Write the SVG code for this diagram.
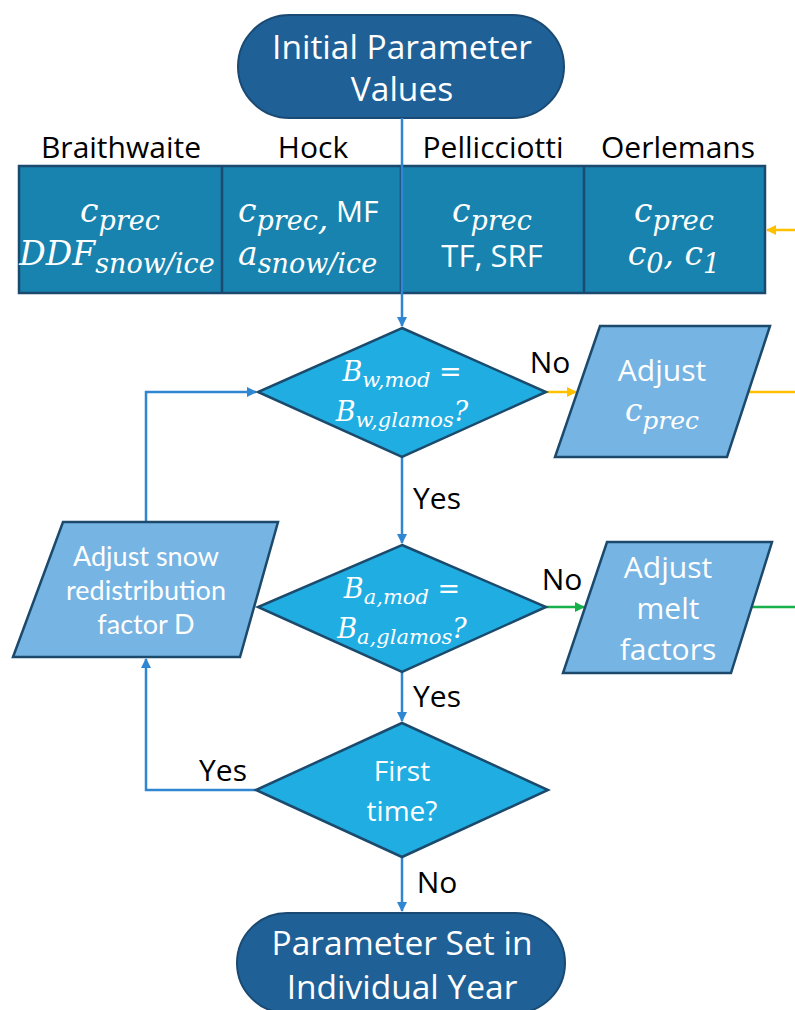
<svg xmlns="http://www.w3.org/2000/svg" width="795" height="1010" viewBox="0 0 795 1010">
<style>
.term{fill:#1f6096;stroke:#1a4a73;stroke-width:2}
.tbl{fill:#1883ae;stroke:#1b4a6e;stroke-width:2.5}
.dia{fill:#1fade2;stroke:#1c4a6c;stroke-width:2.5}
.par{fill:#75b4e3;stroke:#1c4a6c;stroke-width:2.5}
.wt{fill:#ffffff;font-family:"Open Sans","DejaVu Sans",sans-serif;text-anchor:middle}
.bk{fill:#000000;font-family:"Open Sans","DejaVu Sans",sans-serif;text-anchor:middle}
.m{fill:#ffffff;font-family:"DejaVu Serif",serif;font-style:italic;text-anchor:middle}
.nar{fill:#ffffff;font-family:Lato,"Open Sans",sans-serif;text-anchor:middle}
.blue{stroke:#2f86d2;stroke-width:2.5;fill:none}
.yel{stroke:#ffc000;stroke-width:2.5;fill:none}
.grn{stroke:#17b04a;stroke-width:2.5;fill:none}
</style>
<defs>
<marker id="ab" markerWidth="10" markerHeight="10" refX="9" refY="5" orient="auto" markerUnits="userSpaceOnUse"><path d="M0,0 L10,5 L0,10 z" fill="#2f86d2"/></marker>
<marker id="ay" markerWidth="10" markerHeight="10" refX="9" refY="5" orient="auto" markerUnits="userSpaceOnUse"><path d="M0,0 L10,5 L0,10 z" fill="#ffc000"/></marker>
<marker id="ag" markerWidth="10" markerHeight="10" refX="9" refY="5" orient="auto" markerUnits="userSpaceOnUse"><path d="M0,0 L10,5 L0,10 z" fill="#17b04a"/></marker>
</defs>

<g id="start">
<rect class="term" x="238" y="15" width="326" height="103" rx="51.5"/>
<text class="wt" x="402" y="59" font-size="33.5">Initial Parameter</text>
<text class="wt" x="402" y="101" font-size="33.5">Values</text>
</g>

<g id="headers">
<text class="bk" x="121" y="158" font-size="30">Braithwaite</text>
<text class="bk" x="313" y="158" font-size="30">Hock</text>
<text class="bk" x="493" y="158" font-size="30">Pellicciotti</text>
<text class="bk" x="678" y="158" font-size="30">Oerlemans</text>
</g>

<g id="table">
<rect class="tbl" x="19" y="166" width="746" height="127"/>
<line x1="222" y1="166" x2="222" y2="293" stroke="#1b4a6e" stroke-width="2.5"/>
<line x1="401" y1="166" x2="401" y2="293" stroke="#1b4a6e" stroke-width="2.5"/>
<line x1="584" y1="166" x2="584" y2="293" stroke="#1b4a6e" stroke-width="2.5"/>
<text class="m" x="120" y="222" font-size="33">c<tspan font-size="27" dy="8">prec</tspan></text>
<text class="m" x="117" y="265" font-size="33">DDF<tspan font-size="27" dy="8">snow/ice</tspan></text>
<text x="238" y="222" font-size="33" fill="#fff"><tspan font-family="DejaVu Serif,serif" font-style="italic">c<tspan font-size="27" dy="8">prec</tspan>,</tspan><tspan font-family="Open Sans,sans-serif" font-size="30" dy="-8"> MF</tspan></text>
<text x="238" y="265" font-size="33" fill="#fff" font-family="DejaVu Serif,serif" font-style="italic">a<tspan font-size="27" dy="8">snow/ice</tspan></text>
<text class="m" x="492" y="222" font-size="33">c<tspan font-size="27" dy="8">prec</tspan></text>
<text class="wt" x="492" y="267" font-size="31">TF, SRF</text>
<text class="m" x="674" y="222" font-size="33">c<tspan font-size="27" dy="8">prec</tspan></text>
<text class="m" x="674" y="265" font-size="33">c<tspan font-size="27" dy="8">0</tspan><tspan dy="-8">, c</tspan><tspan font-size="27" dy="8">1</tspan></text>
</g>

<g id="connectors">
<line class="blue" x1="402" y1="118" x2="402" y2="326" marker-end="url(#ab)"/>
<line class="blue" x1="402" y1="457" x2="402" y2="543" marker-end="url(#ab)"/>
<line class="blue" x1="402" y1="672" x2="402" y2="721" marker-end="url(#ab)"/>
<line class="blue" x1="402" y1="857" x2="402" y2="911" marker-end="url(#ab)"/>
<polyline class="blue" points="256,790 146,790 146,659" marker-end="url(#ab)"/>
<polyline class="blue" points="146,522 146,392 256,392" marker-end="url(#ab)"/>
<line class="yel" x1="546" y1="392" x2="576" y2="392" marker-end="url(#ay)"/>
<line class="yel" x1="749" y1="392" x2="795" y2="392"/>
<line class="yel" x1="795" y1="230" x2="767" y2="230" marker-end="url(#ay)"/>
<line class="grn" x1="546" y1="607" x2="584" y2="607" marker-end="url(#ag)"/>
<line class="grn" x1="752" y1="607" x2="795" y2="607"/>
</g>

<g id="labels">
<text class="bk" x="550" y="373" font-size="30">No</text>
<text class="bk" x="437" y="509" font-size="30">Yes</text>
<text class="bk" x="562" y="590" font-size="30">No</text>
<text class="bk" x="437" y="707" font-size="30">Yes</text>
<text class="bk" x="223" y="781" font-size="30">Yes</text>
<text class="bk" x="437" y="893" font-size="30">No</text>
</g>

<g id="dec1">
<polygon class="dia" points="402,328 546,392 402,457 258,392"/>
<text class="m" x="402" y="381" font-size="27">B<tspan font-size="21" dy="6">w,mod</tspan><tspan dy="-6"> =</tspan></text>
<text class="m" x="402" y="421" font-size="27">B<tspan font-size="21" dy="6">w,glamos</tspan><tspan dy="-6">?</tspan></text>
</g>

<g id="adjc">
<polygon class="par" points="600,326 770,326 727,457 555,457"/>
<text class="wt" x="662" y="381" font-size="30">Adjust</text>
<text class="m" x="662" y="421" font-size="31">c<tspan font-size="25" dy="8">prec</tspan></text>
</g>

<g id="dec2">
<polygon class="dia" points="402,545 546,607 402,672 258,607"/>
<text class="m" x="402" y="598" font-size="27">B<tspan font-size="21" dy="6">a,mod</tspan><tspan dy="-6"> =</tspan></text>
<text class="m" x="402" y="638" font-size="27">B<tspan font-size="21" dy="6">a,glamos</tspan><tspan dy="-6">?</tspan></text>
</g>

<g id="adjd">
<polygon class="par" points="63,522 278,522 240,657 13,657"/>
<text class="nar" x="146" y="566" font-size="27">Adjust snow</text>
<text class="nar" x="146" y="600" font-size="27">redistribution</text>
<text class="nar" x="146" y="634" font-size="27">factor D</text>
</g>

<g id="adjm">
<polygon class="par" points="607,542 772,542 731,673 563,673"/>
<text class="wt" x="668" y="578" font-size="30">Adjust</text>
<text class="wt" x="668" y="619" font-size="30">melt</text>
<text class="wt" x="668" y="660" font-size="30">factors</text>
</g>

<g id="dec3">
<polygon class="dia" points="402,723 548,790 402,857 256,790"/>
<text class="wt" x="402" y="781" font-size="28">First</text>
<text class="wt" x="402" y="821" font-size="28">time?</text>
</g>

<g id="end">
<rect class="term" x="237" y="913" width="328" height="100" rx="50"/>
<text class="wt" x="402" y="955" font-size="33.5">Parameter Set in</text>
<text class="wt" x="402" y="999" font-size="33.5">Individual Year</text>
</g>
</svg>
